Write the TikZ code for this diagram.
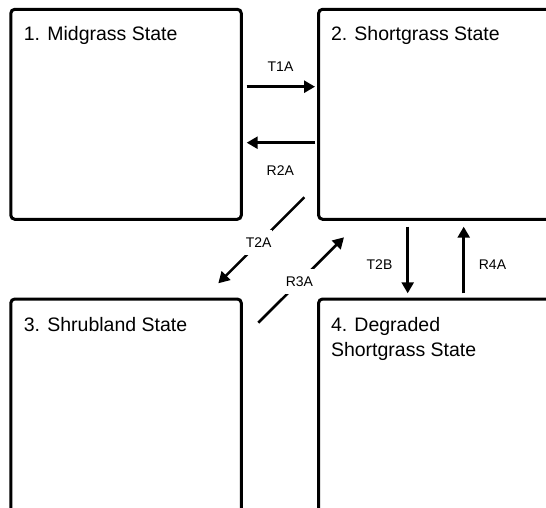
\documentclass[tikz,border=0pt]{standalone}
\usepackage{fontspec}
\setmainfont{Liberation Sans}
\usetikzlibrary{arrows.meta}
\begin{document}
\begin{tikzpicture}[x=1pt,y=-1pt,
  statebox/.style={draw=black, line width=3pt, rounded corners=4pt, rectangle, inner sep=0pt, outer sep=0pt, anchor=north west},
  title/.style={inner sep=0pt, anchor=base west, font=\fontsize{19.5}{23}\selectfont},
  lbl/.style={inner sep=0pt, font=\fontsize{14}{17}\selectfont},
  gaplbl/.style={lbl, fill=white, inner xsep=0.5pt, inner ysep=7.5pt},
  arr/.style={line width=2.6pt, -{Triangle[length=11pt,width=12pt]}},
]
\useasboundingbox (0,0) rectangle (546,508);
\clip (0,0) rectangle (546,508);

% state boxes
\node[statebox, minimum width=230.5pt, minimum height=210pt] (box1) at (10.8,9.3) {};
\node[statebox, minimum width=260pt, minimum height=210pt] (box2) at (318.6,9.3) {};
\node[statebox, minimum width=230.5pt, minimum height=240pt] (box3) at (10.8,299) {};
\node[statebox, minimum width=260pt, minimum height=240pt] (box4) at (318.6,299) {};

% titles
\node[title] (t1) at (23.7,40.7) {1. Midgrass State};
\node[title] (t2) at (330.8,40.7) {2. Shortgrass State};
\node[title] (t3) at (23.7,331) {3. Shrubland State};
\node[title] (t4a) at (330.8,331) {4. Degraded};
\node[title] (t4b) at (330.8,356.7) {Shortgrass State};

% connector end points
\coordinate (t1s) at (246.7,86.7);
\coordinate (t1e) at (315,86.7);
\coordinate (r2s) at (315,142.7);
\coordinate (r2e) at (246.7,142.7);
\coordinate (t2as) at (304.3,197.3);
\coordinate (t2ae) at (218.3,283.3);
\coordinate (r3s) at (258.3,322.7);
\coordinate (r3e) at (344,237.3);
\coordinate (t2bs) at (407.7,226.7);
\coordinate (t2be) at (407.7,293.3);
\coordinate (r4s) at (463.7,293.3);
\coordinate (r4e) at (463.7,226.7);

% connectors
\draw[arr] (t1s) -- (t1e);
\draw[arr] (r2s) -- (r2e);
\draw[arr] (t2as) -- node[gaplbl, pos=0.53] (lt2a) {T2A} (t2ae);
\draw[arr] (r3s) -- node[gaplbl, pos=0.48] (lr3a) {R3A} (r3e);
\draw[arr] (t2bs) -- (t2be);
\draw[arr] (r4s) -- (r4e);

% labels
\node[lbl] (lt1a) at (280.5,67) {T1A};
\node[lbl] (lr2a) at (280.3,170.5) {R2A};
\node[lbl] (lt2b) at (379.5,264.3) {T2B};
\node[lbl] (lr4a) at (492.5,264.3) {R4A};
\end{tikzpicture}
\end{document}
